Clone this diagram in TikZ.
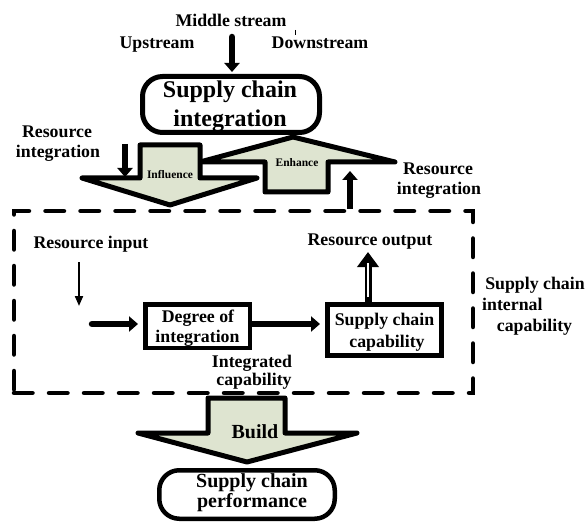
\documentclass[tikz,border=0pt]{standalone}
\usepackage{fontspec}
\setmainfont{Liberation Serif}
\usetikzlibrary{arrows.meta}
\definecolor{arrowfill}{RGB}{222,228,208}
\begin{document}
\begin{tikzpicture}[x=1pt,y=-1pt,
  lbl/.style={font=\fontsize{17.8}{20}\selectfont\bfseries, inner sep=0pt, anchor=base},
  bigtxt/.style={font=\fontsize{24}{28}\selectfont\bfseries, inner sep=0pt, anchor=base},
  bottxt/.style={font=\fontsize{20}{22}\selectfont\bfseries, inner sep=0pt, anchor=base},
  smalltxt/.style={font=\fontsize{11.5}{13}\selectfont\bfseries, inner sep=0pt, anchor=base},
  roundbox/.style={draw, line width=5pt, rounded corners=20pt, inner sep=0pt},
  squarebox/.style={draw, line width=4.5pt, inner sep=0pt},
  frame/.style={draw, line width=4.5pt, line cap=round, dash pattern=on 18.5pt off 16.5pt, inner sep=0pt},
  bigarrow/.style={draw, line width=5pt, line join=round, fill=arrowfill},
  thickarrow/.style={line width=6.5pt, line cap=round, -{Triangle[length=9pt,width=15pt]}},
  thinarrow/.style={line width=2pt, -{Triangle[length=10pt,width=8pt]}},
  hollowarrow/.style={line width=7pt, -{Triangle[length=15pt,width=21pt]}}
]
\useasboundingbox (0,0) rectangle (587,524);

% top labels
\node[lbl] (ms) at (231,27) {Middle stream};
\node[lbl] (up) at (157,49) {Upstream};
\node[lbl] (down) at (320,49) {Downstream};
\draw[line width=0.6pt] (295,30) -- (295,35);

% supply chain integration box
\node[roundbox, minimum width=177pt, minimum height=56pt] (sci) at (231,104.5) {};
\node[bigtxt] (sci1) at (230,98) {Supply chain};
\node[bigtxt] (sci2) at (230,127) {integration};
\coordinate (mstop) at (232,37);
\draw[thickarrow, shorten >=2pt] (mstop) -- (sci.north -| mstop);

% enhance arrow (up)
\draw[bigarrow] (293,137) -- (395,162) -- (328,162) -- (328,192) -- (265,192) -- (265,162) -- (200,162) -- cycle;
\node[smalltxt] (enh) at (297,167) {Enhance};
% influence arrow (down)
\draw[bigarrow] (140,145) -- (200,145) -- (200,178) -- (257,178) -- (170,205) -- (82,178) -- (140,178) -- cycle;
\node[smalltxt] (infl) at (170,179) {Influence};

% resource integration labels and arrows
\node[lbl] (ril1) at (57,138) {Resource};
\node[lbl] (ril2) at (58,158) {integration};
\coordinate (rla) at (125,144);
\coordinate (rlb) at (125,177);
\draw[thickarrow, line cap=butt] (rla) -- (rlb);
\node[lbl] (rir1) at (438,175) {Resource};
\node[lbl] (rir2) at (439,195) {integration};

% internal capability frame
\node[frame, minimum width=459pt, minimum height=182pt] (internal) at (243.5,302) {};
\coordinate (rra) at (350,209);
\coordinate (rrb) at (350,171);
\draw[thickarrow, line cap=butt] (rra) -- (rrb);

\node[lbl] (rin) at (91,248) {Resource input};
\coordinate (tia) at (79,262);
\coordinate (tib) at (79,306);
\draw[thinarrow] (tia) -- (tib);

\node[squarebox, minimum width=104.5pt, minimum height=43.5pt] (deg) at (197.5,326) {};
\node[lbl] (deg1) at (198,322) {Degree of};
\node[lbl] (deg2) at (197.5,342) {integration};

\node[squarebox, line width=5pt, minimum width=114pt, minimum height=51pt] (scc) at (384.5,330) {};
\node[lbl] (scc1) at (384.5,325) {Supply chain};
\node[lbl] (scc2) at (387,347) {capability};

\coordinate (inp) at (92,324);
\draw[thickarrow, shorten >=5pt] (inp) -- (inp -| deg.west);
\draw[thickarrow, line cap=butt, shorten >=5pt] ([yshift=2pt]deg.east) -- ([yshift=2pt]deg.east -| scc.west);

\coordinate (outp) at (368,252);
\draw[hollowarrow] ([yshift=-0.5pt]scc.north -| outp) -- (outp);
\draw[white, line width=1.4pt] (368,297) -- (368,263);
\node[lbl] (rout) at (370,245) {Resource output};

\node[lbl] (ic1) at (252,367) {Integrated};
\node[lbl] (ic2) at (254,385) {capability};

\node[lbl] (sic1) at (535,290) {Supply chain};
\node[lbl, anchor=base west] (sic2) at (482,310) {internal};
\node[lbl] (sic3) at (534.5,331) {capability};

% build arrow
\draw[bigarrow] (208,398) -- (285,398) -- (285,433) -- (357,433) -- (247,462) -- (138,433) -- (208,433) -- cycle;
\node[bottxt] (build) at (255,438) {Build};

% performance box
\node[roundbox, line width=4.5pt, minimum width=175.5pt, minimum height=48.5pt] (perf) at (247,494.5) {};
\node[bottxt] (perf1) at (252,487) {Supply chain};
\node[bottxt] (perf2) at (252,507) {performance};
\end{tikzpicture}
\end{document}
